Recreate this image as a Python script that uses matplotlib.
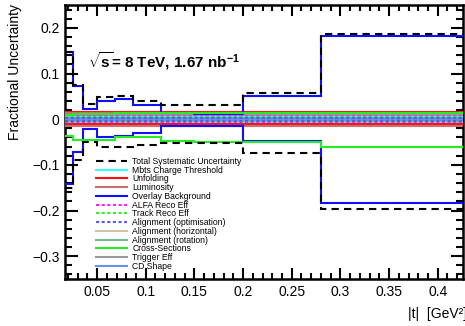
import matplotlib
matplotlib.use("Agg")
import matplotlib.pyplot as plt
from matplotlib.ticker import MultipleLocator, FuncFormatter

plt.rcParams['font.family'] = ['Liberation Sans', 'DejaVu Sans']
plt.rcParams['mathtext.fontset'] = 'custom'
plt.rcParams['mathtext.rm'] = 'Liberation Sans:bold'
plt.rcParams['mathtext.it'] = 'Liberation Sans:bold'
plt.rcParams['mathtext.bf'] = 'Liberation Sans:bold'

# |t| bin edges [GeV^2]
edges = [0.017, 0.025, 0.035, 0.05, 0.068, 0.087, 0.116, 0.15, 0.2, 0.28, 0.426]

# Relative uncertainties per bin (up / down)
total_up = [0.147, 0.074, 0.033, 0.048, 0.050, 0.039, 0.030, 0.030, 0.057, 0.186]
total_dn = [-0.150, -0.089, -0.051, -0.060, -0.060, -0.056, -0.053, -0.053, -0.075, -0.196]
mbts_up = [0.005, 0.005, 0.005, 0.005, 0.005, 0.005, 0.005, 0.005, 0.005, 0.005]
mbts_dn = [-0.009, -0.009, -0.009, -0.009, -0.009, -0.009, -0.009, -0.009, -0.009, -0.009]
unfold_up = [0.016, 0.016, 0.016, 0.016, 0.016, 0.016, 0.016, 0.016, 0.016, 0.015]
unfold_dn = [-0.011, -0.011, -0.011, -0.011, -0.011, -0.011, -0.011, -0.011, -0.011, -0.011]
lumi_up = [0.014, 0.014, 0.014, 0.014, 0.014, 0.014, 0.014, 0.014, 0.014, 0.014]
lumi_dn = [-0.014, -0.014, -0.014, -0.014, -0.014, -0.014, -0.014, -0.014, -0.014, -0.014]
overlay_up = [0.146, 0.072, 0.022, 0.040, 0.045, 0.032, 0.014, 0.012, 0.050, 0.183]
overlay_dn = [-0.143, -0.072, -0.022, -0.038, -0.037, -0.031, -0.015, -0.015, -0.048, -0.183]
alfa_up = [0.006, 0.006, 0.006, 0.006, 0.006, 0.006, 0.006, 0.006, 0.006, 0.006]
alfa_dn = [-0.006, -0.006, -0.006, -0.006, -0.006, -0.006, -0.006, -0.006, -0.006, -0.006]
track_up = [0.004, 0.004, 0.004, 0.004, 0.004, 0.004, 0.004, 0.004, 0.004, 0.004]
track_dn = [-0.004, -0.004, -0.004, -0.004, -0.004, -0.004, -0.004, -0.004, -0.004, -0.004]
align_opt_up = [0.003, 0.003, 0.003, 0.003, 0.003, 0.003, 0.003, 0.003, 0.003, 0.003]
align_opt_dn = [-0.003, -0.003, -0.003, -0.003, -0.003, -0.003, -0.003, -0.003, -0.003, -0.003]
align_hor_up = [0.007, 0.007, 0.007, 0.007, 0.007, 0.007, 0.007, 0.007, 0.007, 0.008]
align_hor_dn = [-0.007, -0.007, -0.007, -0.007, -0.007, -0.007, -0.007, -0.007, -0.007, -0.008]
align_rot_up = [0.008, 0.008, 0.008, 0.008, 0.008, 0.008, 0.008, 0.008, 0.008, 0.009]
align_rot_dn = [-0.005, -0.005, -0.005, -0.005, -0.005, -0.005, -0.005, -0.005, -0.005, -0.006]
cross_up = [0.010, 0.012, 0.012, 0.012, 0.013, 0.013, 0.013, 0.013, 0.013, 0.014]
cross_dn = [-0.036, -0.046, -0.046, -0.046, -0.040, -0.040, -0.047, -0.051, -0.049, -0.060]
trig_up = [0.009, 0.009, 0.009, 0.009, 0.009, 0.009, 0.009, 0.009, 0.009, 0.009]
trig_dn = [-0.012, -0.012, -0.012, -0.012, -0.012, -0.012, -0.012, -0.012, -0.012, -0.012]
cd_up = [0.002, 0.002, 0.002, 0.002, 0.002, 0.002, 0.002, 0.002, 0.002, 0.002]
cd_dn = [-0.001, -0.001, -0.001, -0.001, -0.001, -0.001, -0.001, -0.001, -0.001, -0.001]

dash = (0, (3.5, 2.5))
dot = (0, (1.5, 1.2))

sources = [
    ("Total Systematic Uncertainty", total_up, total_dn, "black", dash, 10),
    ("Mbts Charge Threshold", mbts_up, mbts_dn, "#33ffff", "-", 4),
    ("Unfolding", unfold_up, unfold_dn, "#ff1010", "-", 4),
    ("Luminosity", lumi_up, lumi_dn, "#cc6e6e", "-", 4),
    ("Overlay Background", overlay_up, overlay_dn, "#1010ff", "-", 8),
    ("ALFA Reco Eff", alfa_up, alfa_dn, "#ff22ff", dot, 5),
    ("Track Reco Eff", track_up, track_dn, "#33ee33", dot, 5),
    ("Alignment (optimisation)", align_opt_up, align_opt_dn, "#5a5aee", dot, 5),
    ("Alignment (horizontal)", align_hor_up, align_hor_dn, "#cdc4a4", "-", 3),
    ("Alignment (rotation)", align_rot_up, align_rot_dn, "#6ebb96", "-", 3),
    ("Cross-Sections", cross_up, cross_dn, "#22ee22", "-", 9),
    ("Trigger Eff", trig_up, trig_dn, "#999999", "-", 3),
    ("CD Shape", cd_up, cd_dn, "#6b90e8", "-", 4),
]

fig = plt.figure(figsize=(4.65, 3.26), dpi=100)
W, H = 465, 326
ax = fig.add_axes([65 / W, 1 - 279 / H, (463 - 65) / W, (279 - 5) / H])

handles = []
for label, up, dn, color, ls, z in sources:
    h = ax.stairs(up, edges, baseline=None, color=color, linestyle=ls,
                  linewidth=1.5, zorder=z, label=label)
    ax.stairs(dn, edges, baseline=None, color=color, linestyle=ls,
              linewidth=1.5, zorder=z)
    handles.append(h)

ax.set_xlim(0.017, 0.426)
ax.set_ylim(-0.35, 0.25)

ax.xaxis.set_major_locator(MultipleLocator(0.05))
ax.xaxis.set_minor_locator(MultipleLocator(0.01))
ax.yaxis.set_major_locator(MultipleLocator(0.1))
ax.yaxis.set_minor_locator(MultipleLocator(0.02))


def fmt(v, pos):
    s = f"{v:.2f}".rstrip("0").rstrip(".")
    if s in ("-0", "0"):
        return "0"
    return s.replace("-", "\u2212")


ax.xaxis.set_major_formatter(FuncFormatter(fmt))
ax.yaxis.set_major_formatter(FuncFormatter(fmt))
ax.tick_params(which="both", direction="in", top=True, right=True,
               width=1.5, labelsize=10, pad=4)
ax.tick_params(axis="y", which="major", length=9)
ax.tick_params(axis="y", which="minor", length=5)
ax.tick_params(axis="x", which="major", length=8)
ax.tick_params(axis="x", which="minor", length=4)
for sp in ax.spines.values():
    sp.set_linewidth(1.8)

leg = ax.legend(handles=handles, loc="upper left",
                bbox_to_anchor=(0.07, 0.458), frameon=False, fontsize=6.2,
                handlelength=3.6, handletextpad=0.6, labelspacing=-0.03,
                borderaxespad=0)
leg.set_zorder(20)

fig.text(88 / W, 1 - 68 / H, r"$\sqrt{s}$= 8 TeV, 1.67 nb$^{-1}$",
         fontsize=11, fontweight="bold", ha="left", va="baseline")

fig.text(15 / W, 1 - 4 / H, "Fractional Uncertainty", rotation=90,
         fontsize=10, ha="center", va="top")
fig.text(408 / W, 1 - 318 / H, "|t|  [GeV\u00b2]", fontsize=10,
         ha="left", va="baseline")

fig.savefig("out.png", dpi=100)
